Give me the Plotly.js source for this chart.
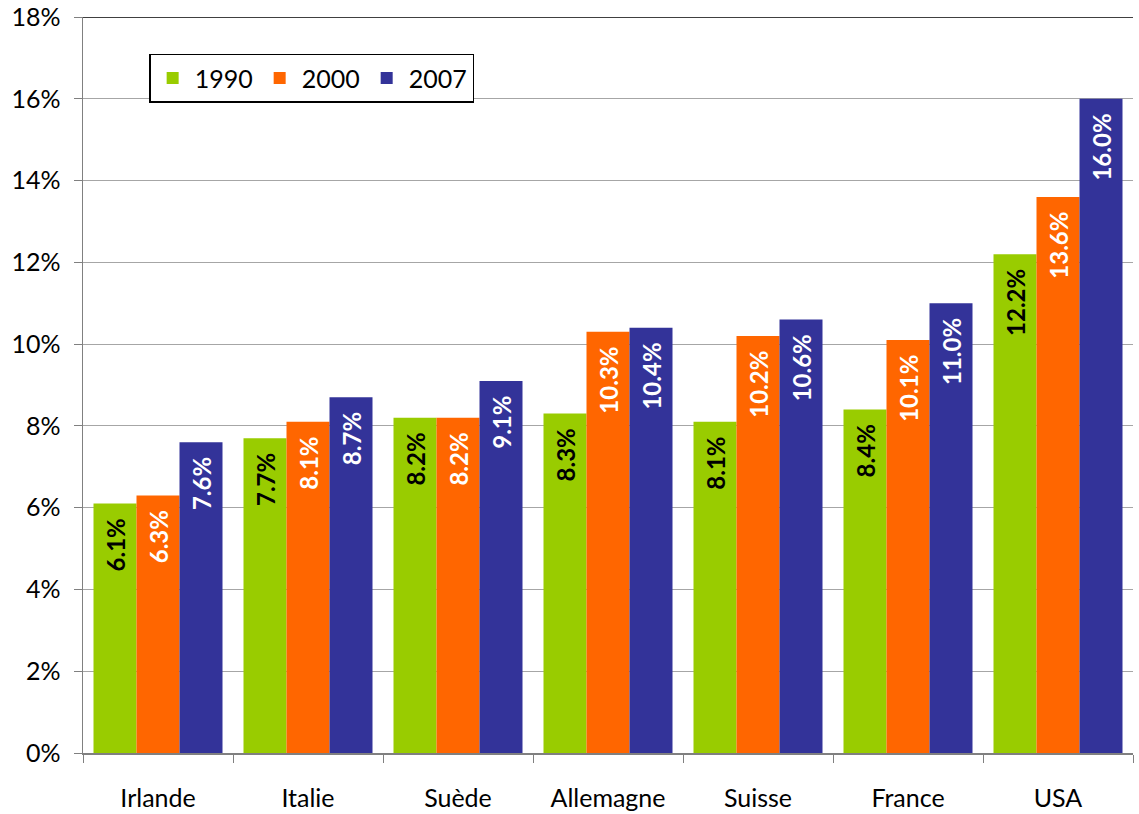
<!DOCTYPE html>
<html><head><meta charset="utf-8">
<script src="https://cdn.plot.ly/plotly-3.0.1.min.js"></script>
<style>html,body{margin:0;padding:0;background:#fff}#chart{width:1139px;height:814px}</style>
</head><body><div id="chart"></div>
<script>
const categories = ["Irlande","Italie","Suède","Allemagne","Suisse","France","USA"];
const v1990 = [6.1,7.7,8.2,8.3,8.1,8.4,12.2];
const v2000 = [6.3,8.1,8.2,10.3,10.2,10.1,13.6];
const v2007 = [7.6,8.7,9.1,10.4,10.6,11.0,16.0];
const yTicks = [0,2,4,6,8,10,12,14,16,18];

const FONT = "Lato, 'Open Sans', sans-serif";
function series(name, vals, color, txtColor){
  return {
    type:'bar', name:name, x:categories, y:vals.map(v=>v/100),
    marker:{color:color},
    text: vals.map(v=>v.toFixed(1)+'%\u00A0\u00A0'),
    textposition:'inside', insidetextanchor:'end', textangle:-90,
    insidetextfont:{family:FONT, size:24, color:txtColor, weight:'bold'},
    hoverinfo:'none', cliponaxis:false
  };
}
const data = [
  series('1990', v1990, '#99CC00', '#000000'),
  series('2000', v2000, '#FF6600', '#FFFFFF'),
  series('2007', v2007, '#333399', '#FFFFFF')
];
const layout = {
  width:1139, height:814,
  margin:{l:83, r:6, t:17, b:61},
  paper_bgcolor:'#fff', plot_bgcolor:'#fff',
  barmode:'group', bargap:0.14, bargroupgap:0,
  font:{family:FONT, size:24, color:'#000'},
  showlegend:true,
  legend:{orientation:'h', x:0.063, y:0.95, xanchor:'left', yanchor:'top',
    bordercolor:'#000', borderwidth:1.5, bgcolor:'#fff',
    font:{family:FONT, size:25, color:'#000'}, itemwidth:34, tracegroupgap:0},
  xaxis:{type:'category', tickson:'boundaries', ticks:'outside', ticklen:8, tickcolor:'#808080',
    showline:true, linecolor:'#808080', linewidth:1.5, showgrid:false, ticklabelstandoff:22,
    tickfont:{family:FONT, size:25, color:'#000'}},
  yaxis:{range:[0,0.18], tickvals:yTicks.map(t=>t/100), ticktext:yTicks.map(t=>t+'%'),
    ticks:'outside', ticklen:8, tickcolor:'#808080', showline:true, linecolor:'#808080', linewidth:1.5,
    showgrid:true, gridcolor:'#A6A6A6', gridwidth:1.2, zeroline:false, ticklabelstandoff:8,
    tickfont:{family:FONT, size:25, color:'#000'}},
  shapes:[{type:'line', xref:'paper', yref:'y', x0:0, x1:1, y0:0.18, y1:0.18, line:{color:'#000', width:1.5}}]
};
Plotly.newPlot('chart', data, layout, {displayModeBar:false, staticPlot:true});
</script></body></html>
